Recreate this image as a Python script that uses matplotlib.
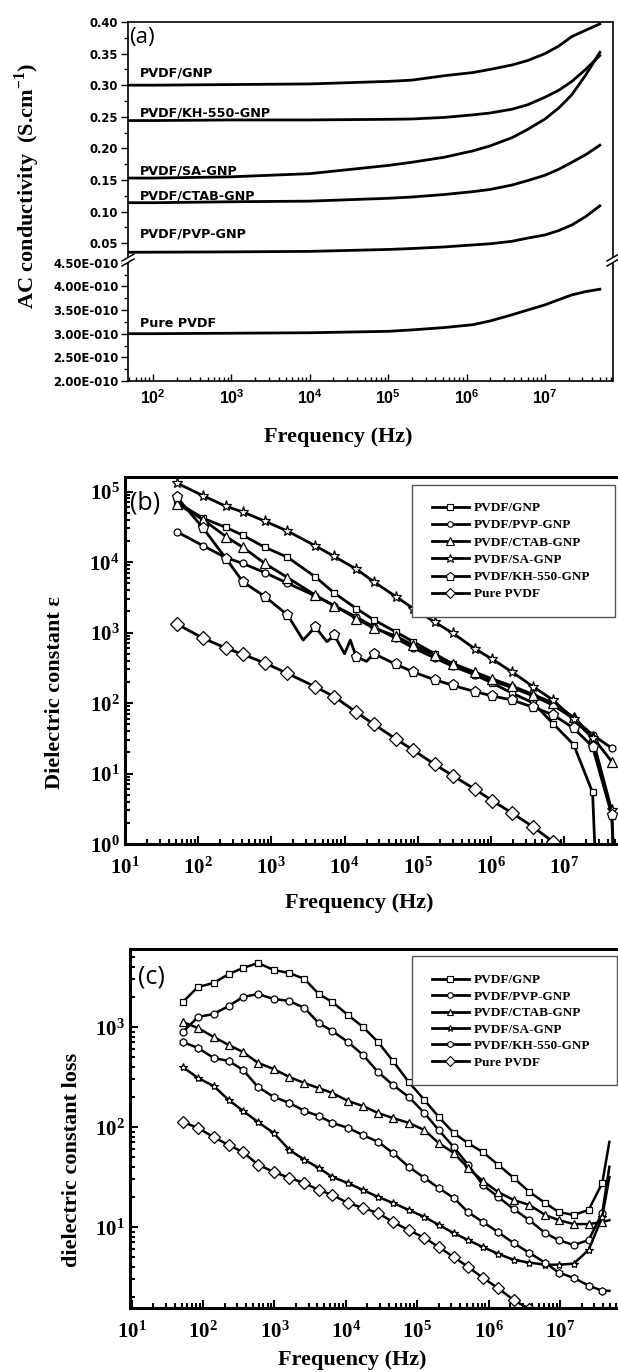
import numpy as np
import matplotlib
matplotlib.use('Agg')
import matplotlib.pyplot as plt
from matplotlib.ticker import FixedLocator, FuncFormatter, MultipleLocator, LogLocator, NullFormatter
from matplotlib.lines import Line2D
from matplotlib.patches import Polygon, Rectangle
from matplotlib.font_manager import FontProperties

plt.rcParams['mathtext.fontset'] = 'custom'
plt.rcParams['mathtext.bf'] = 'Liberation Serif:bold'
plt.rcParams['mathtext.sf'] = 'Liberation Sans:bold'
plt.rcParams['mathtext.rm'] = 'Liberation Serif:bold'

# ---- (a) AC conductivity ----
freq_a = [50, 100, 1e3, 1e4, 1e5, 2e5, 5.2e5, 1.2e6, 2e6, 3.8e6, 6e6, 1e7, 1.5e7, 2.2e7, 3.3e7, 5e7]
gnp_a = [0.300, 0.300, 0.301, 0.302, 0.306, 0.308, 0.315, 0.320, 0.325, 0.332, 0.339, 0.350, 0.362, 0.377, 0.387, 0.397]
kh_a = [0.244, 0.244, 0.245, 0.245, 0.246, 0.2465, 0.249, 0.253, 0.256, 0.262, 0.269, 0.281, 0.292, 0.306, 0.325, 0.347]
sa_a = [0.153, 0.153, 0.155, 0.160, 0.173, 0.178, 0.186, 0.196, 0.204, 0.217, 0.230, 0.2465, 0.264, 0.285, 0.316, 0.352]
ctab_a = [0.114, 0.114, 0.1155, 0.1165, 0.121, 0.123, 0.127, 0.1315, 0.135, 0.142, 0.149, 0.1575, 0.167, 0.178, 0.190, 0.205]
pvp_a = [0.0356, 0.0357, 0.0362, 0.037, 0.040, 0.0415, 0.044, 0.0472, 0.049, 0.053, 0.058, 0.063, 0.070, 0.0788, 0.092, 0.109]
pure_a = [3.00e-10, 3.00e-10, 3.01e-10, 3.02e-10, 3.05e-10, 3.08e-10, 3.13e-10, 3.19e-10, 3.27e-10, 3.40e-10,
          3.50e-10, 3.61e-10, 3.72e-10, 3.82e-10, 3.89e-10, 3.94e-10]
labels_a = ['PVDF/GNP', 'PVDF/KH-550-GNP', 'PVDF/SA-GNP', 'PVDF/CTAB-GNP', 'PVDF/PVP-GNP', 'Pure PVDF']
label_y_a = [0.313, 0.2497, 0.158, 0.1184, 0.0582, 3.14e-10]
xticks_a = [1e2, 1e3, 1e4, 1e5, 1e6, 1e7]

# ---- (b) dielectric constant ----
names = ['PVDF/GNP', 'PVDF/PVP-GNP', 'PVDF/CTAB-GNP', 'PVDF/SA-GNP', 'PVDF/KH-550-GNP', 'Pure PVDF']
freq_b = [51, 117, 240, 407, 813, 1660, 3980, 7240, 14500, 25100, 50100, 87100, 1.7e5, 3.02e5,
          6.03e5, 1.05e6, 1.95e6, 3.8e6, 7.08e6, 1.35e7, 2.45e7, 4.47e7]
gnp_b = [70800, 41700, 30900, 24000, 16200, 11700, 6170, 3630, 2190, 1510, 1020, 741, 501, 355,
         251, 191, 138, 100, 51, 25.7, 5.4, None]
pvp_b = [26900, 17000, 11500, 9550, 7080, 5010, 3310, 2400, 1660, 1200, 832, 603, 437, 331,
         251, 204, 166, 126, 93, 60, 35.5, 22.9]
ctab_b = [67600, 39800, 22900, 16200, 9550, 6030, 3390, 2400, 1580, 1150, 891, 661, 479, 363,
          275, 219, 174, 132, 100, 63, 33, 14.8]
sa_b = [131800, 87100, 61700, 51300, 38000, 27500, 17000, 12000, 7940, 5250, 3240, 2190, 1410, 977,
        589, 417, 275, 170, 110, 59, 31.6, 3.0]
kh_b = [83200, 30200, 11200, 5250, 3240, 1780, 1200, 912, 447, 501, 355, 275, 214, 178,
        145, 126, 110, 87, 68, 44, 24, 2.6]
pure_b = [1320, 830, 600, 490, 370, 263, 170, 123, 74, 50, 31, 21.4, 13.5, 9.3,
          6.0, 4.1, 2.75, 1.74, 1.07, None, None, None]
# unmarked points (zigzag / steep drop)
gnp_b_xf, gnp_b_xv = [2.75e7], [0.3]
sa_b_xf, sa_b_xv = [4.9e7], [0.3]
kh_b_xf = [2720, 5750, 10000, 12000, 20000, 4.9e7]
kh_b_xv = [780, 740, 500, 780, 390, 0.3]
xticks_bc = [1e1, 1e2, 1e3, 1e4, 1e5, 1e6, 1e7]
yticks_b = [1e0, 1e1, 1e2, 1e3, 1e4, 1e5]

# ---- (c) dielectric loss ----
freq_c = [52, 85, 141, 229, 363, 589, 977, 1620, 2630, 4170, 6460, 10700, 17400, 28200, 45700,
          75900, 1.26e5, 2e5, 3.24e5, 5.13e5, 8.3e5, 1.35e6, 2.24e6, 3.72e6, 6.17e6, 9.55e6,
          1.55e7, 2.51e7, 3.89e7, 4.9e7]
gnp_c = [1778, 2512, 2754, 3388, 3890, 4365, 3715, 3467, 3020, 2138, 1778, 1318, 1000, 708, 457,
         282, 186, 126, 87, 69, 56, 42, 31, 22.4, 17.4, 14.1, 13.2, 14.8, 27.5, 71]
pvp_c = [891, 1259, 1349, 1622, 1995, 2138, 1905, 1820, 1549, 1096, 912, 708, 525, 355, 263,
         200, 138, 93, 63, 42, 26.3, 20, 15.1, 11.7, 8.7, 7.4, 6.6, 7.4, 13.8, 40]
ctab_c = [1122, 977, 794, 661, 562, 437, 380, 316, 275, 245, 219, 182, 162, 138, 123,
          110, 93, 69, 55, 39, 28.8, 22.4, 18.6, 16.6, 13.2, 11.7, 10.7, 10.7, 11.2, 11.7]
sa_c = [398, 309, 257, 186, 145, 112, 87, 59, 47, 39, 31.6, 27.5, 23.4, 20, 17.4,
        14.8, 12.6, 10.5, 8.7, 7.4, 6.3, 5.4, 4.7, 4.4, 4.2, 4.2, 4.3, 5.9, 12.6, 31.6]
kh_c = [708, 617, 490, 457, 372, 251, 200, 174, 145, 129, 110, 98, 83, 71, 55,
        40, 31, 24.5, 19.5, 14.1, 11.2, 8.9, 6.9, 5.5, 4.4, 3.5, 3.1, 2.6, 2.3, 2.3]
pure_c = [112, 98, 79, 66, 56, 42, 35.5, 31, 27.5, 23.4, 20.9, 17.4, 15.5, 13.8, 11.2,
          9.3, 7.8, 6.3, 5.0, 4.0, 3.1, 2.45, 1.86, 1.51, 1.2, None, None, None, None, None]
yticks_c = [1e1, 1e2, 1e3]

W, H = 618, 1372
fig = plt.figure(figsize=(W / 100, H / 100), dpi=100)


def box(l, t, r, b):
    return [l / W, 1 - b / H, (r - l) / W, (b - t) / H]


def fx(x):
    return x / W


def fy(y):
    return 1 - y / H


serif = dict(family='Liberation Serif', weight='bold')
sans = dict(family='DejaVu Sans', weight='bold')


def draw(ax, freq, vals, xf, xv, marker, ms, lw, last_marked=True):
    pts = []
    for i, (f, v) in enumerate(zip(freq, vals)):
        if v is None:
            continue
        pts.append((f, v, last_marked or i < len(freq) - 1))
    pts += [(f, v, False) for f, v in zip(xf, xv)]
    pts.sort()
    ax.plot([p[0] for p in pts], [p[1] for p in pts], color='black', lw=lw, marker=marker, ms=ms,
            mfc='white', mec='black', mew=0.9, markevery=[p[2] for p in pts], zorder=2)


# ================= (a) =================
ax1 = fig.add_axes(box(128, 22, 613, 258))
ax2 = fig.add_axes(box(128, 258, 613, 381), sharex=ax1)
for s in ax1.spines.values():
    s.set_linewidth(1.2)
for s in ax2.spines.values():
    s.set_linewidth(1.2)
ax1.spines['bottom'].set_visible(False)
ax2.spines['top'].set_visible(False)

for vals in [gnp_a, kh_a, sa_a, ctab_a, pvp_a]:
    ax1.plot(freq_a, vals, color='black', lw=2)
ax2.plot(freq_a, pure_a, color='black', lw=2)
ax2.set_xscale('log')
ax2.set_xlim(10 ** 1.681, 10 ** 7.867)
ax1.set_ylim(0.0265, 0.40)
ax2.set_ylim(2.0e-10, 4.6e-10)

ax1.yaxis.set_major_locator(MultipleLocator(0.05))
ax1.yaxis.set_minor_locator(MultipleLocator(0.025))
ax1.yaxis.set_major_formatter(FuncFormatter(lambda v, p: '%.2f' % v))
ax2.yaxis.set_major_locator(FixedLocator([2.0e-10, 2.5e-10, 3.0e-10, 3.5e-10, 4.0e-10, 4.5e-10]))
ax2.yaxis.set_minor_locator(FixedLocator([2.25e-10, 2.75e-10, 3.25e-10, 3.75e-10, 4.25e-10]))
ax2.yaxis.set_major_formatter(FuncFormatter(lambda v, p: '%.2fE-010' % (v * 1e10)))
ax2.xaxis.set_major_locator(FixedLocator(xticks_a))
ax2.xaxis.set_minor_locator(LogLocator(base=10, subs=range(2, 10), numticks=50))
ax2.xaxis.set_minor_formatter(NullFormatter())
ax2.xaxis.set_major_formatter(FuncFormatter(lambda v, p: r'$\mathsf{10^{%d}}$' % round(np.log10(v))))

for ax in (ax1, ax2):
    ax.tick_params(axis='y', which='both', direction='out', right=False, pad=2, width=1)
    ax.tick_params(axis='y', which='major', length=5)
    ax.tick_params(axis='y', which='minor', length=3)
    for t in ax.get_yticklabels():
        t.set_fontproperties(FontProperties(**sans, size=8.4))
ax1.tick_params(axis='x', which='both', bottom=False, top=False, labelbottom=False)
ax2.tick_params(axis='x', which='both', direction='in', top=False, width=1, labelsize=11.5, pad=5)
ax2.tick_params(axis='x', which='major', length=5)
ax2.tick_params(axis='x', which='minor', length=3)

for lab, yv in zip(labels_a[:5], label_y_a[:5]):
    ax1.text(68, yv, lab, fontsize=9.2, va='baseline', ha='left', **sans)
ax2.text(68, label_y_a[5], labels_a[5], fontsize=9.2, va='baseline', ha='left', **sans)

# axis break marks
for cx in (128, 613):
    cy = 260
    gap = Polygon([(fx(cx - 6), fy(cy + 1)), (fx(cx + 6), fy(cy - 6)), (fx(cx + 6), fy(cy - 1)),
                   (fx(cx - 6), fy(cy + 6))], closed=True, transform=fig.transFigure,
                  facecolor='white', edgecolor='none', zorder=10)
    fig.add_artist(gap)
    for dy in (0, 5):
        fig.add_artist(Line2D([fx(cx - 6), fx(cx + 6)], [fy(cy + 1 + dy), fy(cy - 6 + dy)],
                              transform=fig.transFigure, color='black', lw=1.1, zorder=11))

fig.text(fx(129), fy(38), '(a)', family='Open Sans', fontsize=16, ha='left', va='center')
fig.text(fx(27), fy(186), 'AC conductivity  (S.cm$^{-1}$)', rotation=90, ha='center', va='center',
         fontsize=16, **serif)
fig.text(fx(338), fy(437), 'Frequency (Hz)', ha='center', va='center', fontsize=16, **serif)

# ================= (b) and (c) =================
markers = ['s', 'o', '^', '*', 'p', 'D']
ms_b = [5, 5, 6.5, 8, 8, 7]
ms_c = [5, 5, 5.5, 6, 5.5, 6]


def style_log_axes(ax, xlim, ylim, yticks):
    ax.set_xscale('log')
    ax.set_yscale('log')
    ax.set_xlim(*xlim)
    ax.set_ylim(*ylim)
    for s in ax.spines.values():
        s.set_linewidth(2.2)
    ax.xaxis.set_major_locator(FixedLocator(xticks_bc))
    ax.yaxis.set_major_locator(FixedLocator(yticks))
    for axis in (ax.xaxis, ax.yaxis):
        axis.set_minor_locator(LogLocator(base=10, subs=range(2, 10), numticks=50))
        axis.set_minor_formatter(NullFormatter())
        axis.set_major_formatter(FuncFormatter(lambda v, p: r'$\mathbf{10^{%d}}$' % round(np.log10(v))))
    ax.tick_params(which='both', direction='in', top=False, right=False, width=1.5, labelsize=15)
    ax.tick_params(which='major', length=6)
    ax.tick_params(which='minor', length=3.5)
    ax.tick_params(axis='x', pad=9)
    ax.tick_params(axis='y', pad=4)


def legend_box(ax, l, t, r, b, first_row, spacing, ms_list):
    handles = [Line2D([], [], color='black', lw=2, marker=m, ms=s * 0.8, mfc='white', mec='black', mew=0.8)
               for m, s in zip(markers, ms_list)]
    ax.add_patch(Rectangle((fx(l), fy(b)), (r - l) / W, (b - t) / H, transform=fig.transFigure,
                           facecolor='white', edgecolor='#555555', lw=1.0, zorder=3))
    leg = ax.legend(handles, names, loc='upper left', bbox_to_anchor=(fx(l + 20), fy(first_row - 8)),
                    bbox_transform=fig.transFigure, frameon=False, borderpad=0, borderaxespad=0,
                    handlelength=2.8, handletextpad=0.4, labelspacing=spacing,
                    prop=FontProperties(**serif, size=9.5))
    leg.set_zorder(5)


axb = fig.add_axes(box(125, 477, 620, 844))
style_log_axes(axb, (10, 10 ** 7.764), (1, 10 ** 5.206), yticks_b)
series_b = [(gnp_b, gnp_b_xf, gnp_b_xv), (pvp_b, [], []), (ctab_b, [], []), (sa_b, sa_b_xf, sa_b_xv),
            (kh_b, kh_b_xf, kh_b_xv), (pure_b, [], [])]
for (vals, xf, xv), m, s in zip(series_b, markers, ms_b):
    draw(axb, freq_b, vals, xf, xv, m, s, 2.0)
legend_box(axb, 412, 485, 615, 617, 510, 0.38, ms_b)
fig.text(fx(130), fy(503), '(b)', family='Open Sans', fontsize=18, ha='left', va='center')
fig.text(fx(55), fy(693), 'Dielectric constant ε', rotation=90, ha='center', va='center', fontsize=16, **serif)
fig.text(fx(359), fy(903), 'Frequency (Hz)', ha='center', va='center', fontsize=16, **serif)

axc = fig.add_axes(box(130, 949, 620, 1308))
style_log_axes(axc, (10 ** 0.977, 10 ** 7.839), (10 ** 0.19, 10 ** 3.78), yticks_c)
for vals, m, s in zip([gnp_c, pvp_c, ctab_c, sa_c, kh_c, pure_c], ['s', 'o', '^', '*', 'h', 'D'], ms_c):
    draw(axc, freq_c, vals, [], [], m, s, 1.8, last_marked=False)
markers[4] = 'h'
legend_box(axc, 412, 956, 617, 1085, 982, 0.32, ms_c)
fig.text(fx(138), fy(977), '(c)', family='Open Sans', fontsize=18, ha='left', va='center')
fig.text(fx(72), fy(1160), 'dielectric constant loss', rotation=90, ha='center', va='center',
         fontsize=16, **serif)
fig.text(fx(352), fy(1360), 'Frequency (Hz)', ha='center', va='center', fontsize=16, **serif)

fig.savefig('out.png', dpi=100)
